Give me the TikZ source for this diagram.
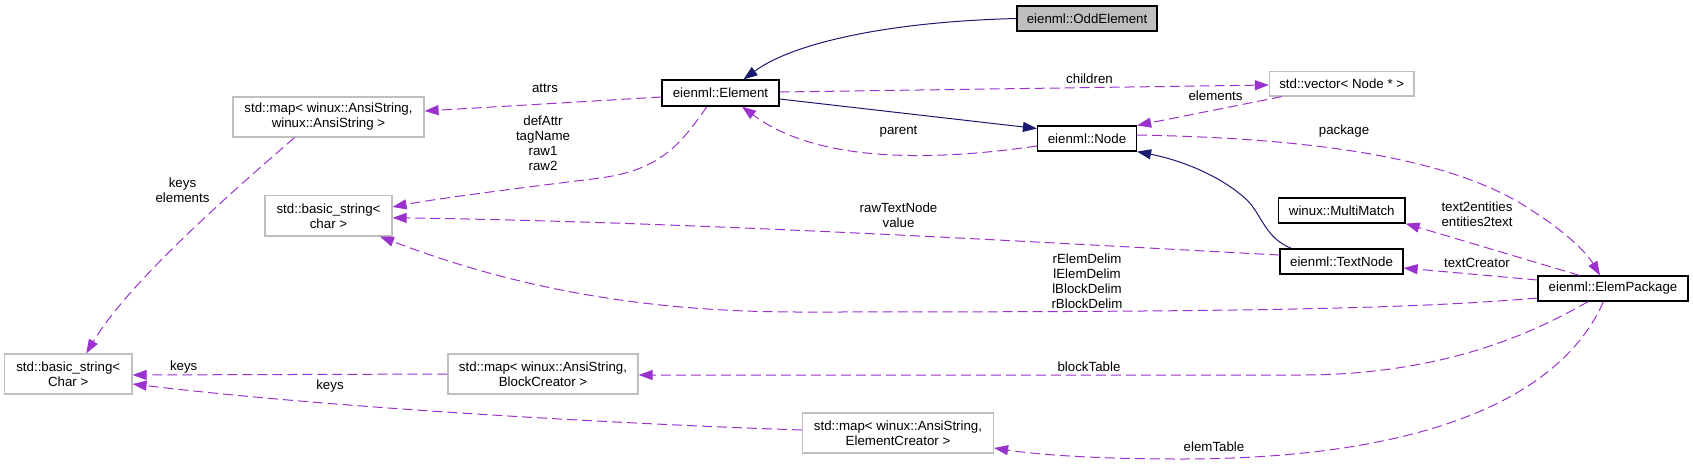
\documentclass[tikz,border=0pt]{standalone}
\usepackage{fontspec}
\setmainfont{Liberation Sans}
\usetikzlibrary{arrows.meta}
\definecolor{midnightblue}{RGB}{25,25,112}
\definecolor{darkorchid}{RGB}{154,50,205}
\definecolor{boxgray}{RGB}{191,191,191}

\begin{document}
\begin{tikzpicture}[x=1pt,y=-1pt,
		font=\fontsize{13.3}{15}\selectfont,
		class node/.style={rectangle,draw=black,line width=1.2pt,inner sep=0pt,align=center,minimum height=25pt},
		ext node/.style={rectangle,draw=boxgray,line width=1.2pt,inner sep=0pt,align=center,minimum height=40pt},
		inherit/.style={-{Triangle[length=14pt,width=10pt]},midnightblue,line width=1pt},
		usage/.style={-{Triangle[length=14pt,width=10pt]},darkorchid,line width=1pt,dash pattern=on 10pt off 5pt},
		edge label/.style={inner sep=0pt,align=center,text=black}]
		\useasboundingbox (0,0) rectangle (1693,464);
		
		\node[class node,fill=boxgray,minimum width=140pt] (odd) at (1087,18.5) {eienml::OddElement};
		\node[class node,minimum width=117pt,minimum height=26pt] (element) at (720.5,93) {eienml::Element};
		\node[class node,minimum width=99pt] (enode) at (1087,138.5) {eienml::Node};
		\node[ext node,minimum width=144.5pt,minimum height=24.5pt] (vec) at (1341.75,83.75) {std::vector\textless{} Node * \textgreater};
		\node[class node,minimum width=126.5pt] (multi) at (1341.75,210.5) {winux::MultiMatch};
		\node[class node,minimum width=123pt] (textnode) at (1341.5,261.5) {eienml::TextNode};
		\node[class node,minimum width=150pt] (pkg) at (1613,288.5) {eienml::ElemPackage};
		\node[ext node,minimum width=191pt] (attrmap) at (328.5,117) {std::map\textless{} winux::AnsiString,\\ winux::AnsiString \textgreater};
		\node[ext node,minimum width=127pt,minimum height=40.5pt] (bstr) at (328.5,215.75) {std::basic\_string\textless\\ char \textgreater};
		\node[ext node,minimum width=127.5pt] (bstrC) at (68.25,374) {std::basic\_string\textless\\ Char \textgreater};
		\node[ext node,minimum width=190pt] (blockmap) at (543,374) {std::map\textless{} winux::AnsiString,\\ BlockCreator \textgreater};
		\node[ext node,minimum width=191pt] (elemmap) at (898,433) {std::map\textless{} winux::AnsiString,\\ ElementCreator \textgreater};
		
		% inheritance
		\draw[inherit] (odd.west) .. controls (880,22) and (790,45) .. ([xshift=23pt]element.north);
		\draw[inherit] ([yshift=-6pt]element.east) -- ([yshift=10pt]enode.west);
		\draw[inherit] ([xshift=-50pt]textnode.north) .. controls (1265,238) and (1262,215) .. (1247,200)
			.. controls (1220,175) and (1180,160) .. (enode.south east);
		
		% members
		\draw[usage] ([yshift=1pt]element.east) -- ([yshift=-1.25pt]vec.west)
			node[edge label] at (1089.5,78.5) {children};
		\draw[usage] ([xshift=-60pt]vec.south) -- (enode.north east)
			node[edge label] at (1215.5,95.5) {elements};
		\draw[usage] ([yshift=-7.5pt]enode.west) .. controls (940,160) and (820,165) .. ([xshift=21.5pt]element.south)
			node[edge label] at (898.5,132) {parent};
		\draw[usage] ([yshift=3.5pt]enode.east) .. controls (1300,138) and (1450,155) .. (1531,210)
			.. controls (1560,228) and (1585,250) .. ([xshift=-13pt]pkg.north)
			node[edge label] at (1344,131) {package};
		\draw[usage] ([xshift=-33.5pt]pkg.north) -- (multi.south east)
			node[edge label] at (1477,214.5) {text2entities\\entities2text};
		\draw[usage] ([yshift=8.5pt]pkg.west) -- ([yshift=-6.5pt]textnode.east)
			node[edge label] at (1477,263) {textCreator};
		\draw[usage] ([yshift=6.5pt]textnode.west) .. controls (1050,243) and (700,222) .. ([yshift=-2pt]bstr.east)
			node[edge label] at (898.5,215) {rawTextNode\\value};
		\draw[usage] ([xshift=-13.5pt]element.south) .. controls (680,145) and (660,170) .. (600,178)
			.. controls (520,188) and (440,198) .. ([yshift=8.75pt]bstr.east)
			node[edge label] at (543,143) {defAttr\\tagName\\raw1\\raw2};
		\draw[usage] ([yshift=-4pt]element.west) -- ([yshift=6pt]attrmap.east)
			node[edge label] at (545,88) {attrs};
		\draw[usage] ([yshift=-9.5pt]pkg.west) .. controls (1400,310) and (1200,312) .. (800,312)
			.. controls (650,312) and (520,290) .. ([xshift=51.5pt]bstr.south)
			node[edge label] at (1087,281) {rElemDelim\\lElemDelim\\lBlockDelim\\rBlockDelim};
		\draw[usage] ([xshift=-25pt]pkg.south) .. controls (1530,335) and (1440,375) .. (1300,375)
			-- ([yshift=-1pt]blockmap.east)
			node[edge label] at (1089,367) {blockTable};
		\draw[usage] ([xshift=-9.5pt]pkg.south) .. controls (1560,400) and (1420,459) .. (1180,459)
			.. controls (1100,459) and (1040,455) .. ([yshift=-15pt]elemmap.east)
			node[edge label] at (1214,447) {elemTable};
		\draw[usage] ([xshift=-34pt]attrmap.south) .. controls (240,185) and (130,280) .. ([xshift=18pt]bstrC.north)
			node[edge label] at (182.5,190.5) {keys\\elements};
		\draw[usage] (blockmap.west) -- ([yshift=-1pt]bstrC.east)
			node[edge label] at (183.7,367) {keys};
		\draw[usage] ([yshift=3pt]elemmap.west) .. controls (650,425) and (350,410) .. ([yshift=-10pt]bstrC.east)
			node[edge label] at (330,386) {keys};
\end{tikzpicture}
\end{document}
